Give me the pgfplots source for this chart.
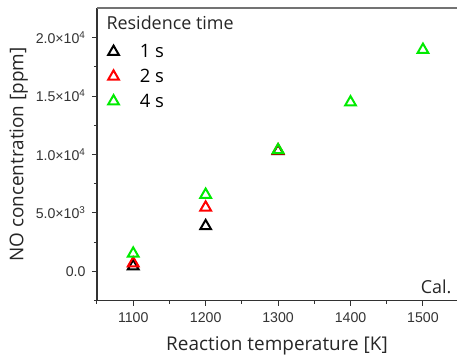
\documentclass[border=0pt]{standalone}
\usepackage{fontspec}
\setmainfont{Open Sans}
\newfontfamily\arialfont{Liberation Sans}
\usepackage{pgfplots}
\pgfplotsset{compat=1.18}
\definecolor{lime}{RGB}{0,235,0}
\definecolor{axgray}{RGB}{50,50,50}
\begin{document}
\begin{tikzpicture}
\useasboundingbox (-97bp,-57.3bp) rectangle (360bp,300.7bp);
\begin{axis}[
 at={(0,0)}, anchor=south west,
 scale only axis, width=360bp, height=292.4bp,
 xmin=1050, xmax=1547, ymin=-2500, ymax=22500,
 scaled x ticks=false, scaled y ticks=false,
 axis x line*=bottom, axis y line*=left,
 axis line style={axgray, line width=1.2bp, -},
 xtick={1100,1200,1300,1400,1500},
 xticklabels={1100,1200,1300,1400,1500},
 minor xtick={1050,1150,1250,1350,1450},
 ytick={0,5000,10000,15000,20000},
 yticklabels={0.0, 5.0×10\textsuperscript{3}, 1.0×10\textsuperscript{4}, 1.5×10\textsuperscript{4}, 2.0×10\textsuperscript{4}},
 minor ytick={-2500,2500,7500,12500,17500},
 tick align=outside, major tick length=5bp, minor tick length=3bp,
 tick style={axgray, line width=1bp},
 ticklabel style={font=\arialfont\fontsize{14.2}{15}\selectfont, text=black!80},
 xticklabel style={yshift=-3bp},
 yticklabel style={xshift=-3bp},
 xlabel={Reaction temperature [K]},
 ylabel={NO concentration [ppm]},
 label style={font=\fontsize{19}{22}\selectfont, text=black!85},
 xlabel style={yshift=-8bp},
 ylabel style={yshift=1bp},
 legend style={at={(rel axis cs:0,1)}, anchor=north west, draw=none, fill=none,
   font=\fontsize{18.5}{21}\selectfont, row sep=6bp, xshift=8bp, yshift=-32bp},
 legend cell align=left,
 clip=false,
]
\addplot[only marks, mark=triangle, mark size=6.2bp, mark options={line width=2bp}, draw=black]
 coordinates {(1100,450) (1200,3880) (1300,10300)};
\addlegendentry{\hspace*{19bp}1 s}
\addplot[only marks, mark=triangle, mark size=6.2bp, mark options={line width=2bp}, draw=red]
 coordinates {(1100,700) (1200,5470) (1300,10350)};
\addlegendentry{\hspace*{19bp}2 s}
\addplot[only marks, mark=triangle, mark size=6.2bp, mark options={line width=2bp}, draw=lime]
 coordinates {(1100,1530) (1200,6560) (1300,10380) (1400,14460) (1500,18950)};
\addlegendentry{\hspace*{19bp}4 s}
\draw[black!55, line width=1.8bp] (rel axis cs:0,1) -- (rel axis cs:1,1);
\node[anchor=base west, font=\fontsize{18}{21}\selectfont, text=black!85] at (rel axis cs:0,1) [xshift=6bp, yshift=-21.7bp] {Residence time};
\node[anchor=base east, font=\fontsize{18}{21}\selectfont, text=black!85] at (rel axis cs:1,0) [xshift=-2bp, yshift=7.7bp] {Cal.};
\end{axis}
\end{tikzpicture}
\end{document}
